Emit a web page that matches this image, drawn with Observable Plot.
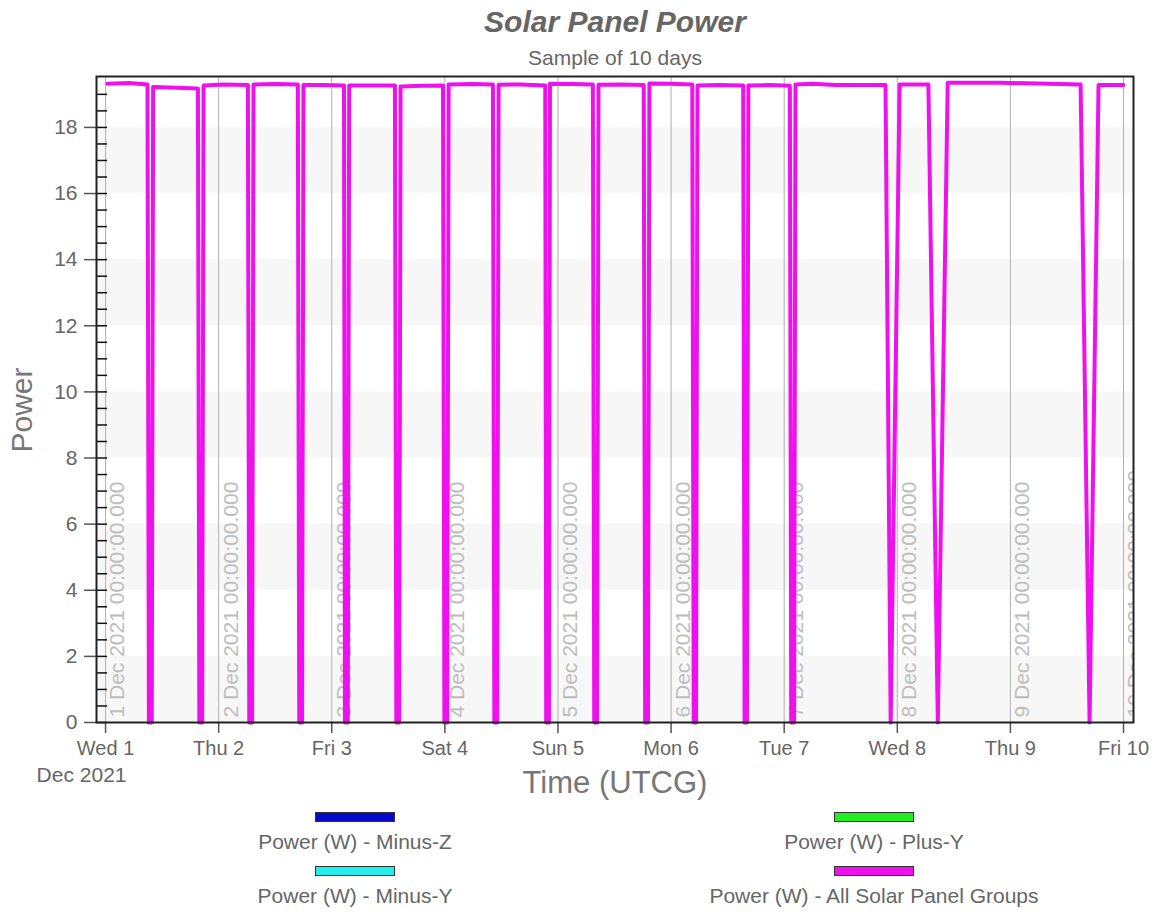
<!DOCTYPE html>
<html>
<head>
<meta charset="utf-8">
<script src="https://cdn.jsdelivr.net/npm/d3@7"></script>
<script src="https://cdn.jsdelivr.net/npm/@observablehq/plot@0.6"></script>
<style>
  body { margin: 0; background: #fff; }
  #wrap { position: relative; width: 1158px; height: 913px; font-family: "Liberation Sans", Arial, sans-serif; color: #666; }
  #chart { position: absolute; left: 0; top: 0; }
  .abs { position: absolute; white-space: nowrap; }
  #title { top: 5px; left: 365px; width: 500px; text-align: center; font-size: 30px; font-weight: bold; font-style: italic; color: #666; line-height: 34px; }
  #subtitle { top: 46px; left: 365px; width: 500px; text-align: center; font-size: 21px; color: #666; line-height: 24px; }
  #ylab { left: 22px; top: 410px; transform: translate(-50%, -50%) rotate(-90deg); font-size: 30px; color: #777; line-height: 34px; }
  #xlab { top: 766px; left: 365px; width: 500px; text-align: center; font-size: 31px; color: #777; line-height: 34px; }
  .item { position: absolute; width: 500px; text-align: center; }
  .swatch { width: 78px; height: 8px; margin: 0 auto; border: 1px solid #333; }
  .item span { display: block; margin-top: 8px; font-size: 21px; line-height: 24px; color: #666; }
</style>
</head>
<body>
<div id="wrap">
  <div id="chart"></div>
  <div id="title" class="abs">Solar Panel Power</div>
  <div id="subtitle" class="abs">Sample of 10 days</div>
  <div id="ylab" class="abs">Power</div>
  <div id="xlab" class="abs">Time (UTCG)</div>
  <div id="legend"></div>
</div>
<script>
// Hours after 1 Dec 2021 00:00 UTCG at which the total power was sampled
const sampleHours = [
  0.4, 5.0, 8.9, 9.2, 9.8, 10.1,
  15.0, 19.6, 19.9, 20.5, 20.8,
  25.0, 30.2, 30.5, 31.1, 31.4,
  36.0, 40.8, 41.1, 41.7, 42.0,
  46.0, 50.6, 50.8, 51.4, 51.7,
  57.0, 61.4, 61.7, 62.3, 62.6,
  67.0, 71.6, 71.9, 72.5, 72.8,
  78.0, 82.2, 82.5, 83.1, 83.4,
  88.0, 93.3, 93.5, 94.1, 94.3,
  99.0, 103.4, 103.7, 104.3, 104.6,
  109.0, 114.2, 114.5, 115.1, 115.4,
  120.0, 124.5, 124.8, 125.3, 125.6,
  130.0, 135.3, 135.6, 136.1, 136.4,
  141.0, 145.2, 145.5, 146.1, 146.4,
  150.0, 155.0, 165.5, 166.6, 168.5,
  174.6, 176.6, 178.7,
  190.0, 206.9, 208.8, 210.7,
  216.0
];
// Power (W) - All Solar Panel Groups
const powerW = [
  19.32, 19.34, 19.30, 0, 0, 19.22,
  19.20, 19.18, 0, 0, 19.27,
  19.30, 19.28, 0, 0, 19.30,
  19.31, 19.30, 0, 0, 19.28,
  19.28, 19.27, 0, 0, 19.27,
  19.27, 19.27, 0, 0, 19.24,
  19.26, 19.27, 0, 0, 19.30,
  19.31, 19.30, 0, 0, 19.29,
  19.30, 19.27, 0, 0, 19.32,
  19.31, 19.30, 0, 0, 19.29,
  19.30, 19.28, 0, 0, 19.33,
  19.32, 19.30, 0, 0, 19.27,
  19.28, 19.27, 0, 0, 19.27,
  19.28, 19.26, 0, 0, 19.30,
  19.32, 19.28, 19.28, 0, 19.30,
  19.30, 0, 19.35,
  19.35, 19.30, 0, 19.28,
  19.28
];

const seriesNames = ["Power (W) - Minus-Z", "Power (W) - Plus-Y", "Power (W) - Minus-Y", "Power (W) - All Solar Panel Groups"];
const seriesColors = ["#0808c8", "#22ee22", "#22eeee", "#ee11ee"];

const yTicks = [0, 2, 4, 6, 8, 10, 12, 14, 16, 18];
const yMinorTicks = d3.range(0, 19.01, 0.5);
const bandFloors = [0, 4, 8, 12, 16];
const dayCount = 10;

const start = Date.UTC(2021, 11, 1);
const at = h => new Date(start + h * 3600e3);
const days = d3.range(dayCount).map(i => at(24 * i));
const xDomain = [at(-1.92), at(218.12)];

const records = sampleHours.map((h, i) => ({time: at(h), power: powerW[i]}));
const dayLabel = d3.utcFormat("%a %-d");
const stampLabel = d3.utcFormat("%-d %b %Y %H:%M:%S.000");

const plot = Plot.plot({
  width: 1158,
  height: 800,
  marginTop: 76,
  marginRight: 25,
  marginBottom: 78,
  marginLeft: 96,
  style: {fontFamily: "'Liberation Sans', Arial, sans-serif", fontSize: "20px", color: "#666", background: "transparent", overflow: "visible"},
  x: {type: "utc", domain: xDomain, axis: null},
  y: {domain: [0, 19.54], axis: null},
  marks: [
    // alternating horizontal bands
    Plot.rect(bandFloors, {x1: () => xDomain[0], x2: () => xDomain[1], y1: d => d, y2: d => d + 2, fill: "#f7f7f7"}),
    // midnight grid lines with their time stamps
    Plot.ruleX(days, {x: d => d, stroke: "#b0b0b0", strokeWidth: 1}),
    Plot.text(days, {x: d => d, y: () => 0, text: d => stampLabel(d), rotate: -90, textAnchor: "start", lineAnchor: "top", dx: 4, dy: -5, fill: "#bdbdbd", fontSize: 21, clip: true}),
    // total solar panel power
    Plot.line(records, {x: "time", y: "power", stroke: seriesColors[3], strokeWidth: 4, strokeLinejoin: "round"}),
    // y axis: inner minor ticks, outer major ticks, labels
    Plot.ruleY(yMinorTicks, {y: d => d, x1: () => xDomain[0], x2: () => at(-1.92 + 2.35), stroke: "#111", strokeWidth: 1.5}),
    Plot.ruleY(yTicks, {y: d => d, x1: () => at(-1.92 - 2.55), x2: () => xDomain[0], stroke: "#555", strokeWidth: 1.5}),
    Plot.text(yTicks, {x: () => xDomain[0], y: d => d, text: d => String(d), textAnchor: "end", dx: -19, fill: "#666", fontSize: 21}),
    // x axis: ticks and day labels
    Plot.ruleX(days, {x: d => d, y1: () => 0, y2: () => -0.33, stroke: "#555", strokeWidth: 1.5}),
    Plot.text(days, {x: d => d, y: () => 0, text: d => dayLabel(d), dy: 26, fill: "#666"}),
    Plot.text(days.slice(0, 1), {x: d => d, y: () => 0, text: () => "Dec 2021", dy: 53, dx: -24, fill: "#666", fontSize: 21}),
    Plot.frame({stroke: "#222", strokeWidth: 2})
  ]
});
document.getElementById("chart").appendChild(plot);

// legend: two columns of swatch + label
const legendSpots = [[355, 812], [874, 812], [355, 866], [874, 866]];
const legend = document.getElementById("legend");
seriesNames.forEach((name, i) => {
  const [cx, top] = legendSpots[i];
  const item = document.createElement("div");
  item.className = "item";
  item.style.left = (cx - 250) + "px";
  item.style.top = top + "px";
  const sw = document.createElement("div");
  sw.className = "swatch";
  sw.style.background = seriesColors[i];
  const label = document.createElement("span");
  label.textContent = name;
  item.appendChild(sw);
  item.appendChild(label);
  legend.appendChild(item);
});
</script>
</body>
</html>
